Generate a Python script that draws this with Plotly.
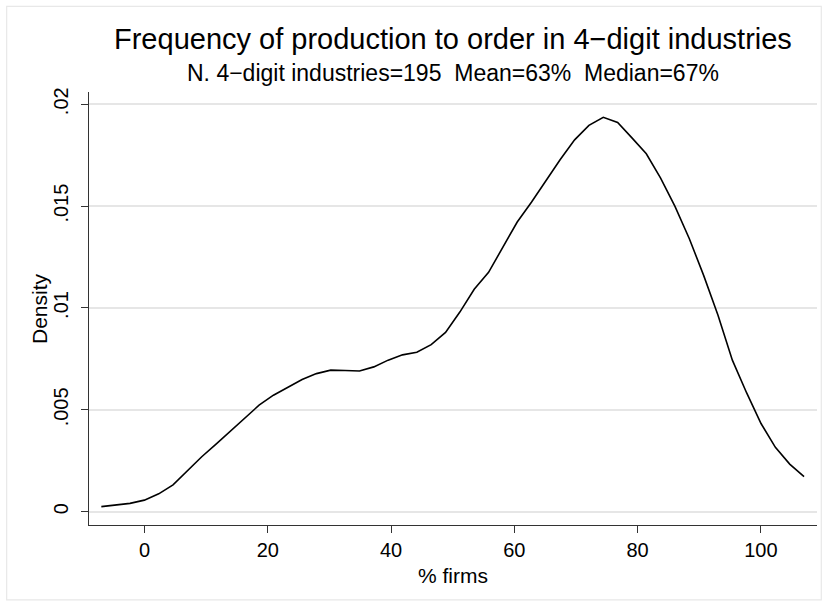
import plotly.graph_objects as go

# kernel density estimate
x_vals = [-7.0, -4.67, -2.35, -0.02, 2.31, 4.63, 6.96, 9.29, 11.61, 13.94,
          16.27, 18.59, 20.92, 23.24, 25.57, 27.9, 30.22, 32.55, 34.88, 37.2,
          39.53, 41.86, 44.18, 46.51, 48.84, 51.16, 53.49, 55.82, 58.14, 60.47,
          62.8, 65.12, 67.45, 69.78, 72.1, 74.43, 76.76, 79.08, 81.41, 83.73,
          86.06, 88.39, 90.71, 93.04, 95.37, 97.69, 100.02, 102.35, 104.67, 107.0]
density = [0.00025, 0.00033, 0.00041, 0.00057, 0.00088, 0.00132, 0.00201, 0.00270, 0.00332, 0.00397,
           0.00463, 0.00523, 0.00572, 0.00611, 0.00649, 0.00678, 0.00695, 0.00693, 0.00691, 0.00711,
           0.00744, 0.00770, 0.00783, 0.00820, 0.00880, 0.00980, 0.01092, 0.01175, 0.01300, 0.01422,
           0.01520, 0.01626, 0.01729, 0.01825, 0.01896, 0.01936, 0.01910, 0.01835, 0.01757, 0.01637,
           0.01499, 0.01340, 0.01160, 0.00964, 0.00744, 0.00583, 0.00433, 0.00316, 0.00234, 0.00172]

x_ticks = [0, 20, 40, 60, 80, 100]
y_ticks = [0, 0.005, 0.01, 0.015, 0.02]
y_tick_labels = ["0", ".005", ".01", ".015", ".02"]

title = "Frequency of production to order in 4\u2212digit industries"
subtitle = "N. 4\u2212digit industries=195\u00a0 Mean=63%\u00a0 Median=67%"
x_title = "% firms"
y_title = "Density"

FONT = "Liberation Sans, Arial, Helvetica, sans-serif"

fig = go.Figure()
fig.add_trace(go.Scatter(x=x_vals, y=density, mode="lines",
                         line=dict(color="black", width=1.6), showlegend=False,
                         hoverinfo="skip"))

fig.update_layout(
    width=828, height=606,
    margin=dict(l=89, r=11, t=92, b=81, pad=0),
    paper_bgcolor="white", plot_bgcolor="white",
    font=dict(family=FONT, color="black", size=18),
    xaxis=dict(range=[-9.0, 109.1], tickvals=x_ticks, showgrid=False,
               showline=True, linecolor="#333333", linewidth=1.3,
               ticks="outside", ticklen=7, tickcolor="#333333", tickwidth=1.2,
               tickfont=dict(size=20), zeroline=False),
    yaxis=dict(range=[-0.00065, 0.0206], tickvals=y_ticks, ticktext=y_tick_labels,
               tickangle=-90, showgrid=True, gridcolor="#e6e6e6", gridwidth=1.5,
               showline=True, linecolor="#333333", linewidth=1.3,
               ticks="outside", ticklen=7, tickcolor="#333333", tickwidth=1.2,
               ticklabelstandoff=5,
               tickfont=dict(size=20), zeroline=False),
    annotations=[
        dict(text=title, xref="paper", yref="paper", x=0.5, y=1.122,
             xanchor="center", yanchor="middle", showarrow=False,
             font=dict(size=29, family=FONT)),
        dict(text=subtitle, xref="paper", yref="paper", x=0.5, y=1.045,
             xanchor="center", yanchor="middle", showarrow=False,
             font=dict(size=23, family=FONT)),
        dict(text=x_title, xref="paper", yref="paper", x=0.5, y=-0.117,
             xanchor="center", yanchor="middle", showarrow=False,
             font=dict(size=21, family=FONT)),
        dict(text=y_title, xref="paper", yref="paper", x=-0.068, y=0.5,
             xanchor="center", yanchor="middle", showarrow=False, textangle=-90,
             font=dict(size=21, family=FONT)),
    ],
    shapes=[dict(type="rect", xref="paper", yref="paper",
                 x0=-0.1131, x1=1.0059, y0=-0.1731, y1=1.1978,
                 line=dict(color="#e8e8e8", width=1.2), layer="below")],
)

fig.write_html("out.html", config={"displayModeBar": False},
               post_script="document.body.style.margin='0';")
